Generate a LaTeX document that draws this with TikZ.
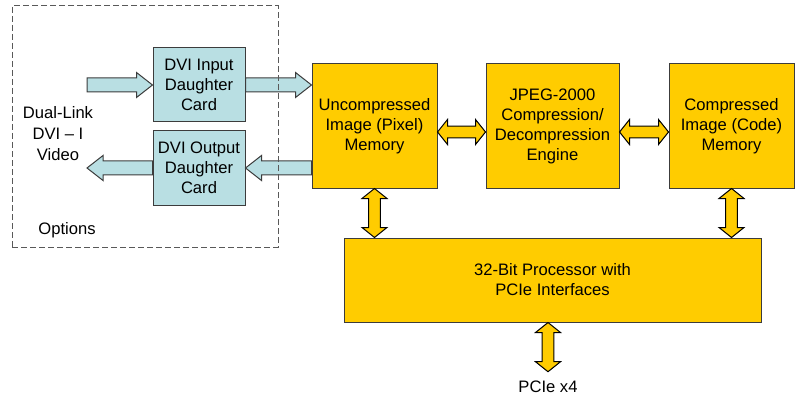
\documentclass[tikz,border=0pt]{standalone}
\usepackage{fontspec}
\setmainfont{Liberation Sans}
\usetikzlibrary{calc}
\definecolor{cardcyan}{RGB}{185,223,227}
\definecolor{blockyellow}{RGB}{255,204,0}
\definecolor{edgegray}{RGB}{60,60,60}

% block arrow with one head (cyan video path)
\newcommand{\feedarrow}[2]{%
  \draw[feed] let \p1=(#1), \p2=(#2), \p3=($(\p2)!8pt!(\p1)$) in
    ($(\p1)!3.5pt!90:(\p2)$) -- ($(\p3)!3.5pt!-90:(\p1)$) -- ($(\p3)!6.25pt!-90:(\p1)$)
    -- (\p2) -- ($(\p3)!6.25pt!90:(\p1)$) -- ($(\p3)!3.5pt!90:(\p1)$)
    -- ($(\p1)!3.5pt!-90:(\p2)$) -- cycle;}
% block arrow with two heads (yellow buses)
\newcommand{\busarrow}[2]{%
  \draw[bus] let \p1=(#1), \p2=(#2), \p3=($(\p1)!5pt!(\p2)$), \p4=($(\p2)!5pt!(\p1)$) in
    (\p1) -- ($(\p3)!6.25pt!90:(\p2)$) -- ($(\p3)!2.9pt!90:(\p2)$)
    -- ($(\p4)!2.9pt!-90:(\p1)$) -- ($(\p4)!6.25pt!-90:(\p1)$) -- (\p2)
    -- ($(\p4)!6.25pt!90:(\p1)$) -- ($(\p4)!2.9pt!90:(\p1)$)
    -- ($(\p3)!2.9pt!-90:(\p2)$) -- ($(\p3)!6.25pt!-90:(\p2)$) -- cycle;}

\begin{document}
\begin{tikzpicture}[x=0.5pt, y=-0.5pt,
  every node/.style={font=\fontsize{8.3}{10}\selectfont},
  card/.style={draw=edgegray, fill=cardcyan, line width=0.5pt, align=center, minimum width=46pt, minimum height=37pt, inner sep=1pt},
  block/.style={draw=edgegray, fill=blockyellow, line width=0.5pt, align=center, minimum width=62.5pt, minimum height=62pt, inner sep=1pt},
  feed/.style={draw=edgegray, fill=cardcyan, line width=0.5pt},
  bus/.style={draw=black, fill=blockyellow, line width=0.5pt},
  optframe/.style={draw=gray!70!black, line width=0.5pt, dash pattern=on 3pt off 1.5pt, minimum width=133pt, minimum height=120.5pt}
]
  \useasboundingbox (0,0) rectangle (801,395);

  % daughter cards
  \node[card] (din) at (199,85) {DVI Input\\Daughter\\Card};
  \node[card] (dout) at (199,168) {DVI Output\\Daughter\\Card};
  \node[align=center, font=\fontsize{8.3}{10.5}\selectfont] (video) at (58,134) {Dual-Link\\DVI -- I\\Video};
  \node (opts) at (67,230) {Options};

  % main blocks
  \node[block] (unc) at (374.5,126) {Uncompressed\\Image (Pixel)\\Memory};
  \node[block, minimum width=66.5pt] (jpeg) at (552.5,126) {JPEG-2000\\Compression/\\Decompression\\Engine};
  \node[block] (cmp) at (731.5,126) {Compressed\\Image (Code)\\Memory};
  \node[block, minimum width=208.5pt, minimum height=42pt] (cpu) at (552.5,280) {32-Bit Processor with\\PCIe Interfaces};
  \node[inner sep=0pt] (pcie) at (548,387) {PCIe x4};

  \coordinate (vin) at (87,85);
  \coordinate (vout) at (87,168);

  % video path
  \feedarrow{vin}{din.west}
  \feedarrow{din.east}{din.east -| unc.west}
  \feedarrow{dout.east -| unc.west}{dout.east}
  \feedarrow{dout.west}{vout}

  % buses
  \busarrow{[yshift=-3pt]unc.east}{[yshift=-3pt]jpeg.west}
  \busarrow{[yshift=-3pt]jpeg.east}{[yshift=-3pt]cmp.west}
  \busarrow{unc.south}{unc.south |- cpu.north}
  \busarrow{cmp.south}{cmp.south |- cpu.north}
  \busarrow{cpu.south -| pcie.north}{[yshift=4.5pt]pcie.north}

  % options frame
  \node[optframe] (optbox) at (145,126.5) {};
\end{tikzpicture}
\end{document}
